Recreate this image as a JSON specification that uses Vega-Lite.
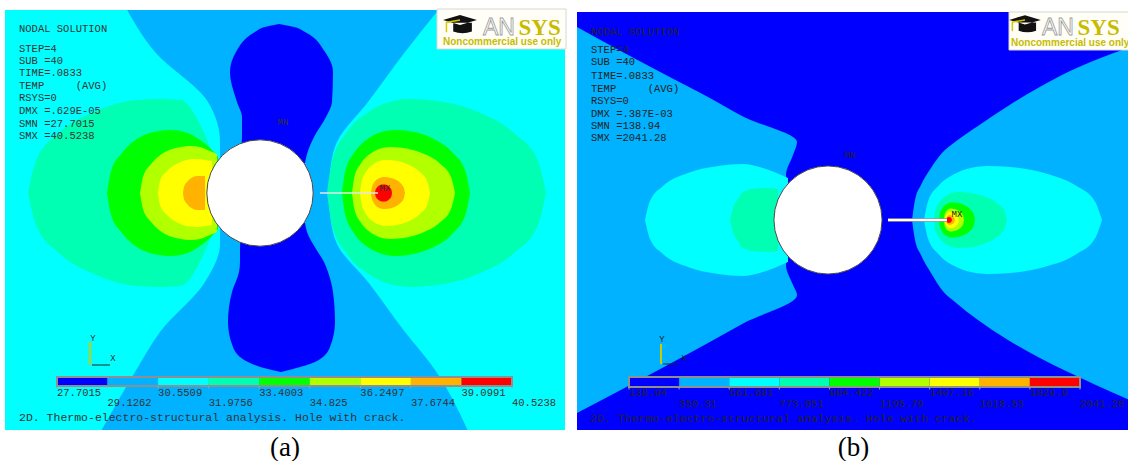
{
  "$schema": "https://vega.github.io/schema/vega-lite/v6.json",
  "padding": {"left": 5, "top": 8, "right": 0, "bottom": 0},
  "background": "#ffffff",
  "spacing": 10,
  "config": {
    "view": {"stroke": null},
    "title": {"font": "Liberation Serif", "fontSize": 27, "fontWeight": "normal", "color": "#000000"}
  },
  "datasets": {
    "yA": [
      {"z": "F3", "l": 3, "y": -24, "x0": -26, "x1": 31},
      {"z": "F3", "l": 3, "y": 18.5, "x0": -26, "x1": 31},
      {"z": "B2", "l": 2, "y": -24, "x0": -16.0, "x1": 20.9},
      {"z": "B2", "l": 2, "y": -17.4, "x0": -12.2, "x1": 17.3},
      {"z": "B2", "l": 2, "y": -13.9, "x0": -10.0, "x1": 14.5},
      {"z": "B2", "l": 2, "y": -8.9, "x0": -5.5, "x1": 10.8},
      {"z": "B2", "l": 2, "y": -5.1, "x0": -4.0, "x1": 7.7},
      {"z": "B2", "l": 2, "y": -2, "x0": -4.0, "x1": 7.0},
      {"z": "B2", "l": 2, "y": 0, "x0": -4.0, "x1": 6.9},
      {"z": "B2", "l": 2, "y": 2, "x0": -4.0, "x1": 7.0},
      {"z": "B2", "l": 2, "y": 5.1, "x0": -4.0, "x1": 7.7},
      {"z": "B2", "l": 2, "y": 9.1, "x0": -5.2, "x1": 10.8},
      {"z": "B2", "l": 2, "y": 14.1, "x0": -10.5, "x1": 14.5},
      {"z": "B2", "l": 2, "y": 18.5, "x0": -13.4, "x1": 18.0},
      {"z": "N1", "l": 1, "y": 3.0, "x0": -1.9, "x1": 4.5},
      {"z": "N1", "l": 1, "y": 3.9, "x0": -1.9, "x1": 4.7},
      {"z": "N1", "l": 1, "y": 5.6, "x0": -1.8, "x1": 5.4},
      {"z": "N1", "l": 1, "y": 7.6, "x0": -1.8, "x1": 6.6},
      {"z": "N1", "l": 1, "y": 9.1, "x0": -2.3, "x1": 7.2},
      {"z": "N1", "l": 1, "y": 12.1, "x0": -3.0, "x1": 7.3},
      {"z": "N1", "l": 1, "y": 14.1, "x0": -2.4, "x1": 6.5},
      {"z": "N1", "l": 1, "y": 16.1, "x0": -0.5, "x1": 4.5},
      {"z": "N1", "l": 1, "y": 16.6, "x0": 0.5, "x1": 3.4},
      {"z": "N1", "l": 1, "y": 16.9, "x0": 1.9, "x1": 1.9},
      {"z": "S1", "l": 1, "y": -17.9, "x0": 2.1, "x1": 2.1},
      {"z": "S1", "l": 1, "y": -17.6, "x0": 0.8, "x1": 3.3},
      {"z": "S1", "l": 1, "y": -16.9, "x0": -1.2, "x1": 5.5},
      {"z": "S1", "l": 1, "y": -15.4, "x0": -2.7, "x1": 7.0},
      {"z": "S1", "l": 1, "y": -12.9, "x0": -3.2, "x1": 7.5},
      {"z": "S1", "l": 1, "y": -9.9, "x0": -2.8, "x1": 7.3},
      {"z": "S1", "l": 1, "y": -7.9, "x0": -2.1, "x1": 6.8},
      {"z": "S1", "l": 1, "y": -6.9, "x0": -2.0, "x1": 6.4},
      {"z": "S1", "l": 1, "y": -5.6, "x0": -2.0, "x1": 5.6},
      {"z": "S1", "l": 1, "y": -3.9, "x0": -1.9, "x1": 4.7},
      {"z": "S1", "l": 1, "y": -3.0, "x0": -1.9, "x1": 4.5}
    ],
    "xA": [
      {"z": "W4", "l": 4, "x": -23.2, "t": 0, "b": 0},
      {"z": "W4", "l": 4, "x": -22.4, "t": 3.2, "b": -3.2},
      {"z": "W4", "l": 4, "x": -20.1, "t": 6.0, "b": -6.0},
      {"z": "W4", "l": 4, "x": -16.6, "t": 8.1, "b": -8.1},
      {"z": "W4", "l": 4, "x": -12.3, "t": 9.3, "b": -9.3},
      {"z": "W4", "l": 4, "x": -10, "t": 9.4, "b": -9.4},
      {"z": "W4", "l": 4, "x": -8, "t": 9.3, "b": -9.3},
      {"z": "W4", "l": 4, "x": -7.5, "t": 9.1, "b": -9.1},
      {"z": "W4", "l": 4, "x": -6.5, "t": 7.8, "b": -7.8},
      {"z": "W4", "l": 4, "x": -5.5, "t": 5.8, "b": -5.8},
      {"z": "W4", "l": 4, "x": -5.0, "t": 4.6, "b": -4.6},
      {"z": "W4", "l": 4, "x": -4.5, "t": 3.6, "b": -3.6},
      {"z": "E4", "l": 4, "x": 6.7, "t": 0, "b": 0},
      {"z": "E4", "l": 4, "x": 7.2, "t": 3.2, "b": -3.2},
      {"z": "E4", "l": 4, "x": 8.64, "t": 6.0, "b": -6.0},
      {"z": "E4", "l": 4, "x": 10.85, "t": 8.1, "b": -8.1},
      {"z": "E4", "l": 4, "x": 13.56, "t": 9.26, "b": -9.26},
      {"z": "E4", "l": 4, "x": 15, "t": 9.4, "b": -9.4},
      {"z": "E4", "l": 4, "x": 17.37, "t": 9.26, "b": -9.26},
      {"z": "E4", "l": 4, "x": 21.8, "t": 8.1, "b": -8.1},
      {"z": "E4", "l": 4, "x": 25.4, "t": 6.0, "b": -6.0},
      {"z": "E4", "l": 4, "x": 27.8, "t": 3.2, "b": -3.2},
      {"z": "E4", "l": 4, "x": 28.6, "t": 0, "b": 0},
      {"z": "W5", "l": 5, "x": -15.3, "t": 0, "b": 0},
      {"z": "W5", "l": 5, "x": -14.9, "t": 2.15, "b": -2.15},
      {"z": "W5", "l": 5, "x": -13.8, "t": 4.0, "b": -4.0},
      {"z": "W5", "l": 5, "x": -12.15, "t": 5.5, "b": -5.5},
      {"z": "W5", "l": 5, "x": -10.1, "t": 6.2, "b": -6.2},
      {"z": "W5", "l": 5, "x": -9, "t": 6.3, "b": -6.3},
      {"z": "W5", "l": 5, "x": -8, "t": 6.2, "b": -6.2},
      {"z": "W5", "l": 5, "x": -7, "t": 5.9, "b": -5.9},
      {"z": "W5", "l": 5, "x": -6, "t": 5.3, "b": -5.3},
      {"z": "W5", "l": 5, "x": -5, "t": 4.5, "b": -4.5},
      {"z": "W5", "l": 5, "x": -4.2, "t": 3.6, "b": -3.6},
      {"z": "E5", "l": 5, "x": 8.2, "t": 0, "b": 0},
      {"z": "E5", "l": 5, "x": 8.52, "t": 2.15, "b": -2.15},
      {"z": "E5", "l": 5, "x": 9.44, "t": 4.05, "b": -4.05},
      {"z": "E5", "l": 5, "x": 10.85, "t": 5.46, "b": -5.46},
      {"z": "E5", "l": 5, "x": 12.58, "t": 6.2, "b": -6.2},
      {"z": "E5", "l": 5, "x": 13.5, "t": 6.3, "b": -6.3},
      {"z": "E5", "l": 5, "x": 14.8, "t": 6.2, "b": -6.2},
      {"z": "E5", "l": 5, "x": 17.25, "t": 5.46, "b": -5.46},
      {"z": "E5", "l": 5, "x": 19.25, "t": 4.05, "b": -4.05},
      {"z": "E5", "l": 5, "x": 20.55, "t": 2.15, "b": -2.15},
      {"z": "E5", "l": 5, "x": 21.0, "t": 0, "b": 0},
      {"z": "W6", "l": 6, "x": -12, "t": 0, "b": 0},
      {"z": "W6", "l": 6, "x": -11.7, "t": 1.6, "b": -1.6},
      {"z": "W6", "l": 6, "x": -10.8, "t": 3.0, "b": -3.0},
      {"z": "W6", "l": 6, "x": -9.5, "t": 4.1, "b": -4.1},
      {"z": "W6", "l": 6, "x": -7.9, "t": 4.6, "b": -4.6},
      {"z": "W6", "l": 6, "x": -7, "t": 4.7, "b": -4.7},
      {"z": "W6", "l": 6, "x": -6, "t": 4.6, "b": -4.6},
      {"z": "W6", "l": 6, "x": -5, "t": 4.2, "b": -4.2},
      {"z": "W6", "l": 6, "x": -4.3, "t": 3.9, "b": -3.9},
      {"z": "E6", "l": 6, "x": 9.2, "t": 0, "b": 0},
      {"z": "E6", "l": 6, "x": 9.43, "t": 1.57, "b": -1.57},
      {"z": "E6", "l": 6, "x": 10.09, "t": 2.96, "b": -2.96},
      {"z": "E6", "l": 6, "x": 11.1, "t": 3.98, "b": -3.98},
      {"z": "E6", "l": 6, "x": 12.34, "t": 4.53, "b": -4.53},
      {"z": "E6", "l": 6, "x": 13, "t": 4.6, "b": -4.6},
      {"z": "E6", "l": 6, "x": 14.13, "t": 4.53, "b": -4.53},
      {"z": "E6", "l": 6, "x": 16.25, "t": 3.98, "b": -3.98},
      {"z": "E6", "l": 6, "x": 17.98, "t": 2.96, "b": -2.96},
      {"z": "E6", "l": 6, "x": 19.11, "t": 1.57, "b": -1.57},
      {"z": "E6", "l": 6, "x": 19.5, "t": 0, "b": 0},
      {"z": "W7", "l": 7, "x": -10.2, "t": 0, "b": 0},
      {"z": "W7", "l": 7, "x": -10, "t": 1.2, "b": -1.2},
      {"z": "W7", "l": 7, "x": -9.3, "t": 2.2, "b": -2.2},
      {"z": "W7", "l": 7, "x": -8.35, "t": 2.9, "b": -2.9},
      {"z": "W7", "l": 7, "x": -7.1, "t": 3.35, "b": -3.35},
      {"z": "W7", "l": 7, "x": -6.5, "t": 3.4, "b": -3.4},
      {"z": "W7", "l": 7, "x": -5.5, "t": 3.3, "b": -3.3},
      {"z": "W7", "l": 7, "x": -4.8, "t": 3.2, "b": -3.2},
      {"z": "E7", "l": 7, "x": 10.0, "t": 0, "b": 0},
      {"z": "E7", "l": 7, "x": 10.16, "t": 1.13, "b": -1.13},
      {"z": "E7", "l": 7, "x": 10.61, "t": 2.12, "b": -2.12},
      {"z": "E7", "l": 7, "x": 11.3, "t": 2.86, "b": -2.86},
      {"z": "E7", "l": 7, "x": 12.15, "t": 3.25, "b": -3.25},
      {"z": "E7", "l": 7, "x": 12.6, "t": 3.3, "b": -3.3},
      {"z": "E7", "l": 7, "x": 13.37, "t": 3.25, "b": -3.25},
      {"z": "E7", "l": 7, "x": 14.8, "t": 2.86, "b": -2.86},
      {"z": "E7", "l": 7, "x": 15.97, "t": 2.12, "b": -2.12},
      {"z": "E7", "l": 7, "x": 16.74, "t": 1.13, "b": -1.13},
      {"z": "E7", "l": 7, "x": 17.0, "t": 0, "b": 0},
      {"z": "W8", "l": 8, "x": -7.7, "t": 0, "b": 0},
      {"z": "W8", "l": 8, "x": -7.6, "t": 0.6, "b": -0.6},
      {"z": "W8", "l": 8, "x": -7.3, "t": 1.1, "b": -1.1},
      {"z": "W8", "l": 8, "x": -6.85, "t": 1.5, "b": -1.5},
      {"z": "W8", "l": 8, "x": -6.3, "t": 1.7, "b": -1.7},
      {"z": "W8", "l": 8, "x": -6, "t": 1.7, "b": -1.7},
      {"z": "W8", "l": 8, "x": -5.5, "t": 1.7, "b": -1.7},
      {"z": "E8", "l": 8, "x": 11.1, "t": 0, "b": 0},
      {"z": "E8", "l": 8, "x": 11.18, "t": 0.55, "b": -0.55},
      {"z": "E8", "l": 8, "x": 11.4, "t": 1.03, "b": -1.03},
      {"z": "E8", "l": 8, "x": 11.75, "t": 1.39, "b": -1.39},
      {"z": "E8", "l": 8, "x": 12.17, "t": 1.58, "b": -1.58},
      {"z": "E8", "l": 8, "x": 12.4, "t": 1.6, "b": -1.6},
      {"z": "E8", "l": 8, "x": 12.76, "t": 1.58, "b": -1.58},
      {"z": "E8", "l": 8, "x": 13.45, "t": 1.39, "b": -1.39},
      {"z": "E8", "l": 8, "x": 14.01, "t": 1.03, "b": -1.03},
      {"z": "E8", "l": 8, "x": 14.37, "t": 0.55, "b": -0.55},
      {"z": "E8", "l": 8, "x": 14.5, "t": 0, "b": 0},
      {"z": "E9", "l": 9, "x": 11.5, "t": 0, "b": 0},
      {"z": "E9", "l": 9, "x": 11.55, "t": 0.29, "b": -0.29},
      {"z": "E9", "l": 9, "x": 11.7, "t": 0.55, "b": -0.55},
      {"z": "E9", "l": 9, "x": 11.93, "t": 0.74, "b": -0.74},
      {"z": "E9", "l": 9, "x": 12.2, "t": 0.84, "b": -0.84},
      {"z": "E9", "l": 9, "x": 12.35, "t": 0.85, "b": -0.85},
      {"z": "E9", "l": 9, "x": 12.5, "t": 0.84, "b": -0.84},
      {"z": "E9", "l": 9, "x": 12.78, "t": 0.74, "b": -0.74},
      {"z": "E9", "l": 9, "x": 13.0, "t": 0.55, "b": -0.55},
      {"z": "E9", "l": 9, "x": 13.15, "t": 0.29, "b": -0.29},
      {"z": "E9", "l": 9, "x": 13.2, "t": 0, "b": 0}
    ],
    "geoA": [
      {"k": "hole", "x": 0, "y": 0},
      {"k": "crack", "x": 6.0, "x2": 11.8, "y": 0, "y2": 0},
      {"k": "logo", "x": 17.7, "x2": 30.6, "y": 18.4, "y2": 14.4},
      {"k": "cap", "x": 20.0, "y": 16.85},
      {"k": "ay", "x": -17.0, "x2": -17.0, "y": -14.9, "y2": -17.2},
      {"k": "ax", "x": -16.8, "x2": -15.0, "y": -17.2, "y2": -17.2}
    ],
    "notesA": [
      {"k": "i", "x": -24.1, "y": 16.4, "t": "NODAL SOLUTION"},
      {"k": "i", "x": -24.1, "y": 14.4, "t": "STEP=4"},
      {"k": "i", "x": -24.1, "y": 13.2, "t": "SUB =40"},
      {"k": "i", "x": -24.1, "y": 12.0, "t": "TIME=.0833"},
      {"k": "i", "x": -24.1, "y": 10.7, "t": "TEMP\u00a0\u00a0\u00a0\u00a0\u00a0(AVG)"},
      {"k": "i", "x": -24.1, "y": 9.5, "t": "RSYS=0"},
      {"k": "i", "x": -24.1, "y": 8.2, "t": "DMX =.629E-05"},
      {"k": "i", "x": -24.1, "y": 6.9, "t": "SMN =27.7015"},
      {"k": "i", "x": -24.1, "y": 5.7, "t": "SMX =40.5238"},
      {"k": "m", "x": 2.3, "y": 7.1, "t": "MN"},
      {"k": "m", "x": 12.5, "y": 0.5, "t": "MX"},
      {"k": "c", "x": -24.1, "y": -22.5, "t": "2D. Thermo-electro-structural analysis. Hole with crack."},
      {"k": "t", "x": -16.7, "y": -14.5, "t": "Y"},
      {"k": "t", "x": -14.7, "y": -16.5, "t": "X"},
      {"k": "an", "x": 22.3, "y": 15.85, "t": "AN"},
      {"k": "sys", "x": 25.85, "y": 15.85, "t": "SYS"},
      {"k": "nc", "x": 18.3, "y": 15.12, "t": "Noncommercial use only"}
    ],
    "cellsA": [
      {"l": 1, "lo": 27.7015, "hi": 29.1262},
      {"l": 2, "lo": 29.1262, "hi": 30.5509},
      {"l": 3, "lo": 30.5509, "hi": 31.9756},
      {"l": 4, "lo": 31.9756, "hi": 33.4003},
      {"l": 5, "lo": 33.4003, "hi": 34.825},
      {"l": 6, "lo": 34.825, "hi": 36.2497},
      {"l": 7, "lo": 36.2497, "hi": 37.6744},
      {"l": 8, "lo": 37.6744, "hi": 39.0991},
      {"l": 9, "lo": 39.0991, "hi": 40.5238}
    ],
    "ticksA": [
      {"k": 0, "v": 27.7015, "s": "27.7015"},
      {"k": 1, "v": 29.1262, "s": "29.1262"},
      {"k": 2, "v": 30.5509, "s": "30.5509"},
      {"k": 3, "v": 31.9756, "s": "31.9756"},
      {"k": 4, "v": 33.4003, "s": "33.4003"},
      {"k": 5, "v": 34.825, "s": "34.825"},
      {"k": 6, "v": 36.2497, "s": "36.2497"},
      {"k": 7, "v": 37.6744, "s": "37.6744"},
      {"k": 8, "v": 39.0991, "s": "39.0991"},
      {"k": 9, "v": 40.5238, "s": "40.5238"}
    ],
    "yB": [
      {"z": "F1", "l": 1, "y": -21.5, "x0": -26, "x1": 31},
      {"z": "F1", "l": 1, "y": 20.8, "x0": -26, "x1": 31},
      {"z": "W2", "l": 2, "y": -19.3, "x0": -26, "x1": -25.1},
      {"z": "W2", "l": 2, "y": -17.2, "x0": -26, "x1": -21.1},
      {"z": "W2", "l": 2, "y": -14.7, "x0": -26, "x1": -16.4},
      {"z": "W2", "l": 2, "y": -12.3, "x0": -26, "x1": -12.0},
      {"z": "W2", "l": 2, "y": -10.3, "x0": -26, "x1": -8.4},
      {"z": "W2", "l": 2, "y": -7.5, "x0": -26, "x1": -3.1},
      {"z": "W2", "l": 2, "y": -6.5, "x0": -26, "x1": -3.5},
      {"z": "W2", "l": 2, "y": -4.5, "x0": -26, "x1": -4.2},
      {"z": "W2", "l": 2, "y": -3, "x0": -26, "x1": -4.0},
      {"z": "W2", "l": 2, "y": 0, "x0": -26, "x1": -4.0},
      {"z": "W2", "l": 2, "y": 3, "x0": -26, "x1": -4.0},
      {"z": "W2", "l": 2, "y": 4.5, "x0": -26, "x1": -4.2},
      {"z": "W2", "l": 2, "y": 6.5, "x0": -26, "x1": -3.5},
      {"z": "W2", "l": 2, "y": 7.8, "x0": -26, "x1": -3.1},
      {"z": "W2", "l": 2, "y": 10.3, "x0": -26, "x1": -8.4},
      {"z": "W2", "l": 2, "y": 12.3, "x0": -26, "x1": -12.0},
      {"z": "W2", "l": 2, "y": 14.6, "x0": -26, "x1": -16.4},
      {"z": "W2", "l": 2, "y": 17.1, "x0": -26, "x1": -21.1},
      {"z": "W2", "l": 2, "y": 19.3, "x0": -26, "x1": -25.1}
    ],
    "xB": [
      {"z": "E2", "l": 2, "x": 8.4, "t": 0, "b": 0},
      {"z": "E2", "l": 2, "x": 8.7, "t": 2.0, "b": -2.0},
      {"z": "E2", "l": 2, "x": 9.3, "t": 3.5, "b": -3.5},
      {"z": "E2", "l": 2, "x": 10.3, "t": 5.2, "b": -5.3},
      {"z": "E2", "l": 2, "x": 11.4, "t": 6.7, "b": -7.0},
      {"z": "E2", "l": 2, "x": 12.7, "t": 7.8, "b": -8.2},
      {"z": "E2", "l": 2, "x": 15, "t": 9.4, "b": -10.0},
      {"z": "E2", "l": 2, "x": 18, "t": 11.4, "b": -12.0},
      {"z": "E2", "l": 2, "x": 21, "t": 13.2, "b": -13.7},
      {"z": "E2", "l": 2, "x": 24, "t": 14.8, "b": -15.2},
      {"z": "E2", "l": 2, "x": 27, "t": 16.1, "b": -16.6},
      {"z": "E2", "l": 2, "x": 30.6, "t": 17.4, "b": -18.2},
      {"z": "W3", "l": 3, "x": -18.3, "t": 0, "b": 0},
      {"z": "W3", "l": 3, "x": -17.8, "t": 1.9, "b": -1.9},
      {"z": "W3", "l": 3, "x": -16.5, "t": 3.4, "b": -3.4},
      {"z": "W3", "l": 3, "x": -14, "t": 4.7, "b": -4.7},
      {"z": "W3", "l": 3, "x": -11, "t": 5.4, "b": -5.4},
      {"z": "W3", "l": 3, "x": -8.6, "t": 5.6, "b": -5.6},
      {"z": "W3", "l": 3, "x": -6.5, "t": 5.2, "b": -5.2},
      {"z": "W3", "l": 3, "x": -4.9, "t": 4.6, "b": -4.6},
      {"z": "W3", "l": 3, "x": -4.0, "t": 4.2, "b": -4.2},
      {"z": "E3", "l": 3, "x": 9.6, "t": 0, "b": 0},
      {"z": "E3", "l": 3, "x": 10.0, "t": 1.85, "b": -1.85},
      {"z": "E3", "l": 3, "x": 11.1, "t": 3.47, "b": -3.47},
      {"z": "E3", "l": 3, "x": 12.8, "t": 4.68, "b": -4.68},
      {"z": "E3", "l": 3, "x": 14.9, "t": 5.32, "b": -5.32},
      {"z": "E3", "l": 3, "x": 16, "t": 5.4, "b": -5.4},
      {"z": "E3", "l": 3, "x": 17.98, "t": 5.32, "b": -5.32},
      {"z": "E3", "l": 3, "x": 21.7, "t": 4.68, "b": -4.68},
      {"z": "E3", "l": 3, "x": 24.73, "t": 3.47, "b": -3.47},
      {"z": "E3", "l": 3, "x": 26.7, "t": 1.85, "b": -1.85},
      {"z": "E3", "l": 3, "x": 27.4, "t": 0, "b": 0},
      {"z": "W4", "l": 4, "x": -9.8, "t": 0, "b": 0},
      {"z": "W4", "l": 4, "x": -9.5, "t": 1.2, "b": -1.2},
      {"z": "W4", "l": 4, "x": -9.0, "t": 2.1, "b": -2.1},
      {"z": "W4", "l": 4, "x": -8.6, "t": 2.7, "b": -2.7},
      {"z": "W4", "l": 4, "x": -7.5, "t": 3.1, "b": -3.1},
      {"z": "W4", "l": 4, "x": -6.0, "t": 3.2, "b": -3.2},
      {"z": "W4", "l": 4, "x": -5.0, "t": 3.1, "b": -3.1},
      {"z": "E4", "l": 4, "x": 10.6, "t": 0, "b": 0},
      {"z": "E4", "l": 4, "x": 10.74, "t": 0.96, "b": -0.96},
      {"z": "E4", "l": 4, "x": 11.16, "t": 1.8, "b": -1.8},
      {"z": "E4", "l": 4, "x": 11.8, "t": 2.42, "b": -2.42},
      {"z": "E4", "l": 4, "x": 12.58, "t": 2.76, "b": -2.76},
      {"z": "E4", "l": 4, "x": 13, "t": 2.8, "b": -2.8},
      {"z": "E4", "l": 4, "x": 13.85, "t": 2.76, "b": -2.76},
      {"z": "E4", "l": 4, "x": 15.45, "t": 2.42, "b": -2.42},
      {"z": "E4", "l": 4, "x": 16.75, "t": 1.8, "b": -1.8},
      {"z": "E4", "l": 4, "x": 17.6, "t": 0.96, "b": -0.96},
      {"z": "E4", "l": 4, "x": 17.9, "t": 0, "b": 0},
      {"z": "E5", "l": 5, "x": 11.1, "t": 0, "b": 0},
      {"z": "E5", "l": 5, "x": 11.18, "t": 0.6, "b": -0.6},
      {"z": "E5", "l": 5, "x": 11.4, "t": 1.12, "b": -1.12},
      {"z": "E5", "l": 5, "x": 11.75, "t": 1.52, "b": -1.52},
      {"z": "E5", "l": 5, "x": 12.17, "t": 1.72, "b": -1.72},
      {"z": "E5", "l": 5, "x": 12.4, "t": 1.75, "b": -1.75},
      {"z": "E5", "l": 5, "x": 12.8, "t": 1.72, "b": -1.72},
      {"z": "E5", "l": 5, "x": 13.55, "t": 1.52, "b": -1.52},
      {"z": "E5", "l": 5, "x": 14.16, "t": 1.12, "b": -1.12},
      {"z": "E5", "l": 5, "x": 14.56, "t": 0.6, "b": -0.6},
      {"z": "E5", "l": 5, "x": 14.7, "t": 0, "b": 0},
      {"z": "E6", "l": 6, "x": 11.6, "t": 0, "b": 0},
      {"z": "E6", "l": 6, "x": 11.64, "t": 0.39, "b": -0.39},
      {"z": "E6", "l": 6, "x": 11.75, "t": 0.74, "b": -0.74},
      {"z": "E6", "l": 6, "x": 11.93, "t": 1.0, "b": -1.0},
      {"z": "E6", "l": 6, "x": 12.14, "t": 1.13, "b": -1.13},
      {"z": "E6", "l": 6, "x": 12.25, "t": 1.15, "b": -1.15},
      {"z": "E6", "l": 6, "x": 12.48, "t": 1.13, "b": -1.13},
      {"z": "E6", "l": 6, "x": 12.93, "t": 1.0, "b": -1.0},
      {"z": "E6", "l": 6, "x": 13.28, "t": 0.74, "b": -0.74},
      {"z": "E6", "l": 6, "x": 13.52, "t": 0.39, "b": -0.39},
      {"z": "E6", "l": 6, "x": 13.6, "t": 0, "b": 0},
      {"z": "E7", "l": 7, "x": 11.7, "t": 0, "b": 0},
      {"z": "E7", "l": 7, "x": 11.73, "t": 0.27, "b": -0.27},
      {"z": "E7", "l": 7, "x": 11.82, "t": 0.51, "b": -0.51},
      {"z": "E7", "l": 7, "x": 11.95, "t": 0.69, "b": -0.69},
      {"z": "E7", "l": 7, "x": 12.11, "t": 0.79, "b": -0.79},
      {"z": "E7", "l": 7, "x": 12.2, "t": 0.8, "b": -0.8},
      {"z": "E7", "l": 7, "x": 12.36, "t": 0.79, "b": -0.79},
      {"z": "E7", "l": 7, "x": 12.65, "t": 0.69, "b": -0.69},
      {"z": "E7", "l": 7, "x": 12.89, "t": 0.51, "b": -0.51},
      {"z": "E7", "l": 7, "x": 13.05, "t": 0.27, "b": -0.27},
      {"z": "E7", "l": 7, "x": 13.1, "t": 0, "b": 0},
      {"z": "E8", "l": 8, "x": 11.8, "t": 0, "b": 0},
      {"z": "E8", "l": 8, "x": 11.9, "t": 0.32, "b": -0.32},
      {"z": "E8", "l": 8, "x": 12.0, "t": 0.43, "b": -0.43},
      {"z": "E8", "l": 8, "x": 12.15, "t": 0.5, "b": -0.5},
      {"z": "E8", "l": 8, "x": 12.35, "t": 0.45, "b": -0.45},
      {"z": "E8", "l": 8, "x": 12.55, "t": 0.32, "b": -0.32},
      {"z": "E8", "l": 8, "x": 12.7, "t": 0, "b": 0},
      {"z": "E9", "l": 9, "x": 11.8, "t": 0, "b": 0},
      {"z": "E9", "l": 9, "x": 11.9, "t": 0.22, "b": -0.22},
      {"z": "E9", "l": 9, "x": 12.1, "t": 0.3, "b": -0.3},
      {"z": "E9", "l": 9, "x": 12.3, "t": 0.22, "b": -0.22},
      {"z": "E9", "l": 9, "x": 12.4, "t": 0, "b": 0}
    ],
    "geoB": [
      {"k": "hole", "x": 0, "y": 0},
      {"k": "crack", "x": 6.0, "x2": 11.9, "y": 0, "y2": 0},
      {"k": "logo", "x": 18.1, "x2": 30.5, "y": 20.8, "y2": 17.0},
      {"k": "cap", "x": 19.7, "y": 19.6},
      {"k": "ay", "x": -16.7, "x2": -16.7, "y": -12.4, "y2": -14.4},
      {"k": "ax", "x": -16.5, "x2": -15.0, "y": -14.4, "y2": -14.4}
    ],
    "notesB": [
      {"k": "i", "x": -23.7, "y": 18.8, "t": "NODAL SOLUTION"},
      {"k": "i", "x": -23.7, "y": 17.0, "t": "STEP=4"},
      {"k": "i", "x": -23.7, "y": 15.8, "t": "SUB =40"},
      {"k": "i", "x": -23.7, "y": 14.4, "t": "TIME=.0833"},
      {"k": "i", "x": -23.7, "y": 13.1, "t": "TEMP\u00a0\u00a0\u00a0\u00a0\u00a0(AVG)"},
      {"k": "i", "x": -23.7, "y": 11.9, "t": "RSYS=0"},
      {"k": "i", "x": -23.7, "y": 10.6, "t": "DMX =.387E-03"},
      {"k": "i", "x": -23.7, "y": 9.4, "t": "SMN =138.94"},
      {"k": "i", "x": -23.7, "y": 8.2, "t": "SMX =2041.28"},
      {"k": "m", "x": 2.2, "y": 6.5, "t": "MN"},
      {"k": "m", "x": 12.9, "y": 0.6, "t": "MX"},
      {"k": "c", "x": -23.8, "y": -19.9, "t": "2D. Thermo-electro-structural analysis. Hole with crack."},
      {"k": "t", "x": -16.6, "y": -11.9, "t": "Y"},
      {"k": "t", "x": -14.4, "y": -13.8, "t": "X"},
      {"k": "an", "x": 21.4, "y": 18.55, "t": "AN"},
      {"k": "sys", "x": 24.95, "y": 18.55, "t": "SYS"},
      {"k": "nc", "x": 18.3, "y": 17.7, "t": "Noncommercial use only"}
    ],
    "cellsB": [
      {"l": 1, "lo": 138.94, "hi": 350.31},
      {"l": 2, "lo": 350.31, "hi": 561.681},
      {"l": 3, "lo": 561.681, "hi": 773.051},
      {"l": 4, "lo": 773.051, "hi": 984.422},
      {"l": 5, "lo": 984.422, "hi": 1195.79},
      {"l": 6, "lo": 1195.79, "hi": 1407.16},
      {"l": 7, "lo": 1407.16, "hi": 1618.53},
      {"l": 8, "lo": 1618.53, "hi": 1829.9},
      {"l": 9, "lo": 1829.9, "hi": 2041.28}
    ],
    "ticksB": [
      {"k": 0, "v": 138.94, "s": "138.94"},
      {"k": 1, "v": 350.31, "s": "350.31"},
      {"k": 2, "v": 561.681, "s": "561.681"},
      {"k": 3, "v": 773.051, "s": "773.051"},
      {"k": 4, "v": 984.422, "s": "984.422"},
      {"k": 5, "v": 1195.79, "s": "1195.79"},
      {"k": 6, "v": 1407.16, "s": "1407.16"},
      {"k": 7, "v": 1618.53, "s": "1618.53"},
      {"k": 8, "v": 1829.9, "s": "1829.9"},
      {"k": 9, "v": 2041.28, "s": "2041.28"}
    ]
  },
  "hconcat": [
    {
      "width": 560,
      "height": 420,
      "title": {"text": "(a)", "orient": "bottom", "offset": 5},
      "resolve": {"scale": {"x": "independent"}},
      "layer": [
        {
          "layer": [
            {
              "data": {"name": "yA"},
              "transform": [{"filter": "datum.z == 'F3'"}],
              "mark": {"type": "area", "orient": "horizontal", "clip": true},
              "encoding": {
                "y": {"field": "y", "type": "quantitative", "scale": {"domain": [-23.7, 18.3]}, "axis": null},
                "x": {"field": "x0", "type": "quantitative", "scale": {"domain": [-25.5, 30.5]}, "axis": null},
                "x2": {"field": "x1"},
                "color": {"field": "l", "type": "ordinal", "scale": {"domain": [1, 2, 3, 4, 5, 6, 7, 8, 9], "range": ["#0000ff", "#00b2ff", "#00ffff", "#00ffb2", "#00ff00", "#b2ff00", "#ffff00", "#ffb200", "#ff0000"]}, "legend": null}
              }
            },
            {
              "data": {"name": "yA"},
              "transform": [{"filter": "datum.z == 'B2'"}],
              "mark": {"type": "area", "orient": "horizontal", "interpolate": "monotone", "clip": true},
              "encoding": {
                "y": {"field": "y", "type": "quantitative", "scale": {"domain": [-23.7, 18.3]}, "axis": null},
                "x": {"field": "x0", "type": "quantitative", "scale": {"domain": [-25.5, 30.5]}, "axis": null},
                "x2": {"field": "x1"},
                "color": {"field": "l", "type": "ordinal", "scale": {"domain": [1, 2, 3, 4, 5, 6, 7, 8, 9], "range": ["#0000ff", "#00b2ff", "#00ffff", "#00ffb2", "#00ff00", "#b2ff00", "#ffff00", "#ffb200", "#ff0000"]}, "legend": null}
              }
            },
            {
              "data": {"name": "yA"},
              "transform": [{"filter": "datum.l == 1"}],
              "mark": {"type": "area", "orient": "horizontal", "interpolate": "monotone", "clip": true},
              "encoding": {
                "y": {"field": "y", "type": "quantitative", "scale": {"domain": [-23.7, 18.3]}, "axis": null},
                "x": {"field": "x0", "type": "quantitative", "scale": {"domain": [-25.5, 30.5]}, "axis": null},
                "x2": {"field": "x1"},
                "detail": {"field": "z"},
                "color": {"field": "l", "type": "ordinal", "scale": {"domain": [1, 2, 3, 4, 5, 6, 7, 8, 9], "range": ["#0000ff", "#00b2ff", "#00ffff", "#00ffb2", "#00ff00", "#b2ff00", "#ffff00", "#ffb200", "#ff0000"]}, "legend": null}
              }
            },
            {
              "data": {"name": "xA"},
              "transform": [{"filter": "datum.l == 4"}],
              "mark": {"type": "area", "interpolate": "monotone", "clip": true},
              "encoding": {
                "x": {"field": "x", "type": "quantitative", "scale": {"domain": [-25.5, 30.5]}, "axis": null},
                "y": {"field": "t", "type": "quantitative", "scale": {"domain": [-23.7, 18.3]}, "axis": null},
                "y2": {"field": "b"},
                "detail": {"field": "z"},
                "color": {"field": "l", "type": "ordinal", "scale": {"domain": [1, 2, 3, 4, 5, 6, 7, 8, 9], "range": ["#0000ff", "#00b2ff", "#00ffff", "#00ffb2", "#00ff00", "#b2ff00", "#ffff00", "#ffb200", "#ff0000"]}, "legend": null}
              }
            },
            {
              "data": {"name": "xA"},
              "transform": [{"filter": "datum.l == 5"}],
              "mark": {"type": "area", "interpolate": "monotone", "clip": true},
              "encoding": {
                "x": {"field": "x", "type": "quantitative", "scale": {"domain": [-25.5, 30.5]}, "axis": null},
                "y": {"field": "t", "type": "quantitative", "scale": {"domain": [-23.7, 18.3]}, "axis": null},
                "y2": {"field": "b"},
                "detail": {"field": "z"},
                "color": {"field": "l", "type": "ordinal", "scale": {"domain": [1, 2, 3, 4, 5, 6, 7, 8, 9], "range": ["#0000ff", "#00b2ff", "#00ffff", "#00ffb2", "#00ff00", "#b2ff00", "#ffff00", "#ffb200", "#ff0000"]}, "legend": null}
              }
            },
            {
              "data": {"name": "xA"},
              "transform": [{"filter": "datum.l == 6"}],
              "mark": {"type": "area", "interpolate": "monotone", "clip": true},
              "encoding": {
                "x": {"field": "x", "type": "quantitative", "scale": {"domain": [-25.5, 30.5]}, "axis": null},
                "y": {"field": "t", "type": "quantitative", "scale": {"domain": [-23.7, 18.3]}, "axis": null},
                "y2": {"field": "b"},
                "detail": {"field": "z"},
                "color": {"field": "l", "type": "ordinal", "scale": {"domain": [1, 2, 3, 4, 5, 6, 7, 8, 9], "range": ["#0000ff", "#00b2ff", "#00ffff", "#00ffb2", "#00ff00", "#b2ff00", "#ffff00", "#ffb200", "#ff0000"]}, "legend": null}
              }
            },
            {
              "data": {"name": "xA"},
              "transform": [{"filter": "datum.l == 7"}],
              "mark": {"type": "area", "interpolate": "monotone", "clip": true},
              "encoding": {
                "x": {"field": "x", "type": "quantitative", "scale": {"domain": [-25.5, 30.5]}, "axis": null},
                "y": {"field": "t", "type": "quantitative", "scale": {"domain": [-23.7, 18.3]}, "axis": null},
                "y2": {"field": "b"},
                "detail": {"field": "z"},
                "color": {"field": "l", "type": "ordinal", "scale": {"domain": [1, 2, 3, 4, 5, 6, 7, 8, 9], "range": ["#0000ff", "#00b2ff", "#00ffff", "#00ffb2", "#00ff00", "#b2ff00", "#ffff00", "#ffb200", "#ff0000"]}, "legend": null}
              }
            },
            {
              "data": {"name": "xA"},
              "transform": [{"filter": "datum.l == 8"}],
              "mark": {"type": "area", "interpolate": "monotone", "clip": true},
              "encoding": {
                "x": {"field": "x", "type": "quantitative", "scale": {"domain": [-25.5, 30.5]}, "axis": null},
                "y": {"field": "t", "type": "quantitative", "scale": {"domain": [-23.7, 18.3]}, "axis": null},
                "y2": {"field": "b"},
                "detail": {"field": "z"},
                "color": {"field": "l", "type": "ordinal", "scale": {"domain": [1, 2, 3, 4, 5, 6, 7, 8, 9], "range": ["#0000ff", "#00b2ff", "#00ffff", "#00ffb2", "#00ff00", "#b2ff00", "#ffff00", "#ffb200", "#ff0000"]}, "legend": null}
              }
            },
            {
              "data": {"name": "xA"},
              "transform": [{"filter": "datum.l == 9"}],
              "mark": {"type": "area", "interpolate": "monotone", "clip": true},
              "encoding": {
                "x": {"field": "x", "type": "quantitative", "scale": {"domain": [-25.5, 30.5]}, "axis": null},
                "y": {"field": "t", "type": "quantitative", "scale": {"domain": [-23.7, 18.3]}, "axis": null},
                "y2": {"field": "b"},
                "detail": {"field": "z"},
                "color": {"field": "l", "type": "ordinal", "scale": {"domain": [1, 2, 3, 4, 5, 6, 7, 8, 9], "range": ["#0000ff", "#00b2ff", "#00ffff", "#00ffb2", "#00ff00", "#b2ff00", "#ffff00", "#ffb200", "#ff0000"]}, "legend": null}
              }
            },
            {
              "data": {"name": "geoA"},
              "transform": [{"filter": "datum.k == 'crack'"}],
              "mark": {"type": "rule", "stroke": "#e4e4e4", "strokeWidth": 1.5},
              "encoding": {
                "x": {"field": "x", "type": "quantitative", "scale": {"domain": [-25.5, 30.5]}, "axis": null},
                "x2": {"field": "x2"},
                "y": {"field": "y", "type": "quantitative", "scale": {"domain": [-23.7, 18.3]}, "axis": null},
                "y2": {"field": "y2"}
              }
            },
            {
              "data": {"name": "geoA"},
              "transform": [{"filter": "datum.k == 'hole'"}],
              "mark": {"type": "point", "shape": "circle", "size": 11310, "filled": true, "fill": "#ffffff", "stroke": "#4a4a4a", "strokeWidth": 1, "opacity": 1},
              "encoding": {
                "x": {"field": "x", "type": "quantitative", "scale": {"domain": [-25.5, 30.5]}, "axis": null},
                "y": {"field": "y", "type": "quantitative", "scale": {"domain": [-23.7, 18.3]}, "axis": null}
              }
            },
            {
              "data": {"name": "geoA"},
              "transform": [{"filter": "datum.k == 'logo'"}],
              "mark": {"type": "rect", "fill": "#fffff8", "stroke": "#d6d6d6", "strokeWidth": 1},
              "encoding": {
                "x": {"field": "x", "type": "quantitative", "scale": {"domain": [-25.5, 30.5]}, "axis": null},
                "x2": {"field": "x2"},
                "y": {"field": "y", "type": "quantitative", "scale": {"domain": [-23.7, 18.3]}, "axis": null},
                "y2": {"field": "y2"}
              }
            },
            {
              "data": {"name": "geoA"},
              "transform": [{"filter": "datum.k == 'cap'"}],
              "mark": {"type": "point", "shape": "M-1,-0.26L0,-0.56L1,-0.26L0,0.03Z M-0.4,-0.1L-0.4,0.42Q0.15,0.62 0.7,0.42L0.7,-0.1Z", "size": 1150, "filled": true, "fill": "#111111", "strokeWidth": 0, "opacity": 1},
              "encoding": {
                "x": {"field": "x", "type": "quantitative", "scale": {"domain": [-25.5, 30.5]}, "axis": null},
                "y": {"field": "y", "type": "quantitative", "scale": {"domain": [-23.7, 18.3]}, "axis": null}
              }
            },
            {
              "data": {"name": "geoA"},
              "transform": [{"filter": "datum.k == 'cap'"}],
              "mark": {"type": "point", "shape": "M0,-0.26L-0.8,-0.12L-0.8,0.45", "size": 1150, "filled": false, "stroke": "#d8c800", "strokeWidth": 1.5, "opacity": 1},
              "encoding": {
                "x": {"field": "x", "type": "quantitative", "scale": {"domain": [-25.5, 30.5]}, "axis": null},
                "y": {"field": "y", "type": "quantitative", "scale": {"domain": [-23.7, 18.3]}, "axis": null}
              }
            },
            {
              "data": {"name": "geoA"},
              "transform": [{"filter": "datum.k == 'ay'"}],
              "mark": {"type": "rule", "stroke": "#cccc00", "strokeWidth": 2},
              "encoding": {
                "x": {"field": "x", "type": "quantitative", "scale": {"domain": [-25.5, 30.5]}, "axis": null},
                "x2": {"field": "x2"},
                "y": {"field": "y", "type": "quantitative", "scale": {"domain": [-23.7, 18.3]}, "axis": null},
                "y2": {"field": "y2"}
              }
            },
            {
              "data": {"name": "geoA"},
              "transform": [{"filter": "datum.k == 'ax'"}],
              "mark": {"type": "rule", "stroke": "#222222", "strokeWidth": 1},
              "encoding": {
                "x": {"field": "x", "type": "quantitative", "scale": {"domain": [-25.5, 30.5]}, "axis": null},
                "x2": {"field": "x2"},
                "y": {"field": "y", "type": "quantitative", "scale": {"domain": [-23.7, 18.3]}, "axis": null},
                "y2": {"field": "y2"}
              }
            },
            {
              "data": {"name": "notesA"},
              "transform": [{"filter": "datum.k == 'i'"}],
              "mark": {"type": "text", "font": "Liberation Mono", "fontSize": 10.5, "align": "left", "baseline": "middle", "fill": "#333333"},
              "encoding": {
                "x": {"field": "x", "type": "quantitative", "scale": {"domain": [-25.5, 30.5]}, "axis": null},
                "y": {"field": "y", "type": "quantitative", "scale": {"domain": [-23.7, 18.3]}, "axis": null},
                "text": {"field": "t"}
              }
            },
            {
              "data": {"name": "notesA"},
              "transform": [{"filter": "datum.k == 'm' || datum.k == 't'"}],
              "mark": {"type": "text", "font": "Liberation Mono", "fontSize": 9, "align": "center", "baseline": "middle", "fill": "#333333"},
              "encoding": {
                "x": {"field": "x", "type": "quantitative", "scale": {"domain": [-25.5, 30.5]}, "axis": null},
                "y": {"field": "y", "type": "quantitative", "scale": {"domain": [-23.7, 18.3]}, "axis": null},
                "text": {"field": "t"}
              }
            },
            {
              "data": {"name": "notesA"},
              "transform": [{"filter": "datum.k == 'c'"}],
              "mark": {"type": "text", "font": "Liberation Mono", "fontSize": 11.5, "align": "left", "baseline": "middle", "fill": "#333333"},
              "encoding": {
                "x": {"field": "x", "type": "quantitative", "scale": {"domain": [-25.5, 30.5]}, "axis": null},
                "y": {"field": "y", "type": "quantitative", "scale": {"domain": [-23.7, 18.3]}, "axis": null},
                "text": {"field": "t"}
              }
            },
            {
              "data": {"name": "notesA"},
              "transform": [{"filter": "datum.k == 'an'"}],
              "mark": {"type": "text", "font": "Liberation Sans", "fontSize": 23, "align": "left", "baseline": "alphabetic", "fill": "#ffffff", "stroke": "#9c9c9c", "strokeWidth": 0.8},
              "encoding": {
                "x": {"field": "x", "type": "quantitative", "scale": {"domain": [-25.5, 30.5]}, "axis": null},
                "y": {"field": "y", "type": "quantitative", "scale": {"domain": [-23.7, 18.3]}, "axis": null},
                "text": {"field": "t"}
              }
            },
            {
              "data": {"name": "notesA"},
              "transform": [{"filter": "datum.k == 'sys'"}],
              "mark": {"type": "text", "font": "Liberation Serif", "fontWeight": "bold", "fontSize": 23, "align": "left", "baseline": "alphabetic", "fill": "#c8bb00"},
              "encoding": {
                "x": {"field": "x", "type": "quantitative", "scale": {"domain": [-25.5, 30.5]}, "axis": null},
                "y": {"field": "y", "type": "quantitative", "scale": {"domain": [-23.7, 18.3]}, "axis": null},
                "text": {"field": "t"}
              }
            },
            {
              "data": {"name": "notesA"},
              "transform": [{"filter": "datum.k == 'nc'"}],
              "mark": {"type": "text", "font": "Liberation Sans", "fontWeight": "bold", "fontSize": 10, "align": "left", "baseline": "middle", "fill": "#c8bb00"},
              "encoding": {
                "x": {"field": "x", "type": "quantitative", "scale": {"domain": [-25.5, 30.5]}, "axis": null},
                "y": {"field": "y", "type": "quantitative", "scale": {"domain": [-23.7, 18.3]}, "axis": null},
                "text": {"field": "t"}
              }
            }
          ]
        },
        {
          "layer": [
            {
              "data": {"name": "cellsA"},
              "mark": {"type": "rect"},
              "encoding": {
                "x": {"field": "lo", "type": "quantitative", "scale": {"domain": [26.2361, 42.0174]}, "axis": null},
                "x2": {"field": "hi"},
                "y": {"datum": -18.4, "type": "quantitative", "scale": {"domain": [-23.7, 18.3]}, "axis": null},
                "y2": {"datum": -19.3},
                "color": {"field": "l", "type": "ordinal", "scale": {"domain": [1, 2, 3, 4, 5, 6, 7, 8, 9], "range": ["#0000ff", "#00b2ff", "#00ffff", "#00ffb2", "#00ff00", "#b2ff00", "#ffff00", "#ffb200", "#ff0000"]}, "legend": null}
              }
            },
            {
              "data": {"name": "cellsA"},
              "mark": {"type": "rect", "fill": null, "stroke": "#8f8f8f", "strokeWidth": 2},
              "encoding": {
                "x": {"aggregate": "min", "field": "lo", "type": "quantitative", "scale": {"domain": [26.2361, 42.0174]}, "axis": null},
                "x2": {"aggregate": "max", "field": "hi"},
                "y": {"datum": -18.4, "type": "quantitative", "scale": {"domain": [-23.7, 18.3]}, "axis": null},
                "y2": {"datum": -19.3}
              }
            },
            {
              "data": {"name": "ticksA"},
              "mark": {"type": "rule", "stroke": "#a0a0a0", "strokeWidth": 1},
              "encoding": {
                "x": {"field": "v", "type": "quantitative", "scale": {"domain": [26.2361, 42.0174]}, "axis": null},
                "y": {"datum": -19.3, "type": "quantitative", "scale": {"domain": [-23.7, 18.3]}, "axis": null},
                "y2": {"datum": -19.55}
              }
            },
            {
              "data": {"name": "ticksA"},
              "transform": [{"filter": "datum.k % 2 == 0"}],
              "mark": {"type": "text", "font": "Liberation Mono", "fontSize": 10.5, "align": "left", "baseline": "middle", "fill": "#333333"},
              "encoding": {
                "x": {"field": "v", "type": "quantitative", "scale": {"domain": [26.2361, 42.0174]}, "axis": null},
                "y": {"datum": -20.0, "type": "quantitative", "scale": {"domain": [-23.7, 18.3]}, "axis": null},
                "text": {"field": "s"}
              }
            },
            {
              "data": {"name": "ticksA"},
              "transform": [{"filter": "datum.k % 2 == 1"}],
              "mark": {"type": "text", "font": "Liberation Mono", "fontSize": 10.5, "align": "left", "baseline": "middle", "fill": "#333333"},
              "encoding": {
                "x": {"field": "v", "type": "quantitative", "scale": {"domain": [26.2361, 42.0174]}, "axis": null},
                "y": {"datum": -21.0, "type": "quantitative", "scale": {"domain": [-23.7, 18.3]}, "axis": null},
                "text": {"field": "s"}
              }
            }
          ]
        }
      ]
    },
    {
      "width": 553,
      "height": 420,
      "title": {"text": "(b)", "orient": "bottom", "offset": 5},
      "resolve": {"scale": {"x": "independent"}},
      "layer": [
        {
          "layer": [
            {
              "data": {"name": "yB"},
              "transform": [{"filter": "datum.z == 'F1'"}],
              "mark": {"type": "area", "orient": "horizontal", "clip": true},
              "encoding": {
                "y": {"field": "y", "type": "quantitative", "scale": {"domain": [-21.0, 21.0]}, "axis": null},
                "x": {"field": "x0", "type": "quantitative", "scale": {"domain": [-25.1, 30.2]}, "axis": null},
                "x2": {"field": "x1"},
                "color": {"field": "l", "type": "ordinal", "scale": {"domain": [1, 2, 3, 4, 5, 6, 7, 8, 9], "range": ["#0000ff", "#00b2ff", "#00ffff", "#00ffb2", "#00ff00", "#b2ff00", "#ffff00", "#ffb200", "#ff0000"]}, "legend": null}
              }
            },
            {
              "data": {"name": "yB"},
              "transform": [{"filter": "datum.z == 'W2'"}],
              "mark": {"type": "area", "orient": "horizontal", "interpolate": "monotone", "clip": true},
              "encoding": {
                "y": {"field": "y", "type": "quantitative", "scale": {"domain": [-21.0, 21.0]}, "axis": null},
                "x": {"field": "x0", "type": "quantitative", "scale": {"domain": [-25.1, 30.2]}, "axis": null},
                "x2": {"field": "x1"},
                "color": {"field": "l", "type": "ordinal", "scale": {"domain": [1, 2, 3, 4, 5, 6, 7, 8, 9], "range": ["#0000ff", "#00b2ff", "#00ffff", "#00ffb2", "#00ff00", "#b2ff00", "#ffff00", "#ffb200", "#ff0000"]}, "legend": null}
              }
            },
            {
              "data": {"name": "xB"},
              "transform": [{"filter": "datum.l == 2"}],
              "mark": {"type": "area", "interpolate": "monotone", "clip": true},
              "encoding": {
                "x": {"field": "x", "type": "quantitative", "scale": {"domain": [-25.1, 30.2]}, "axis": null},
                "y": {"field": "t", "type": "quantitative", "scale": {"domain": [-21.0, 21.0]}, "axis": null},
                "y2": {"field": "b"},
                "detail": {"field": "z"},
                "color": {"field": "l", "type": "ordinal", "scale": {"domain": [1, 2, 3, 4, 5, 6, 7, 8, 9], "range": ["#0000ff", "#00b2ff", "#00ffff", "#00ffb2", "#00ff00", "#b2ff00", "#ffff00", "#ffb200", "#ff0000"]}, "legend": null}
              }
            },
            {
              "data": {"name": "xB"},
              "transform": [{"filter": "datum.l == 3"}],
              "mark": {"type": "area", "interpolate": "monotone", "clip": true},
              "encoding": {
                "x": {"field": "x", "type": "quantitative", "scale": {"domain": [-25.1, 30.2]}, "axis": null},
                "y": {"field": "t", "type": "quantitative", "scale": {"domain": [-21.0, 21.0]}, "axis": null},
                "y2": {"field": "b"},
                "detail": {"field": "z"},
                "color": {"field": "l", "type": "ordinal", "scale": {"domain": [1, 2, 3, 4, 5, 6, 7, 8, 9], "range": ["#0000ff", "#00b2ff", "#00ffff", "#00ffb2", "#00ff00", "#b2ff00", "#ffff00", "#ffb200", "#ff0000"]}, "legend": null}
              }
            },
            {
              "data": {"name": "xB"},
              "transform": [{"filter": "datum.l == 4"}],
              "mark": {"type": "area", "interpolate": "monotone", "clip": true},
              "encoding": {
                "x": {"field": "x", "type": "quantitative", "scale": {"domain": [-25.1, 30.2]}, "axis": null},
                "y": {"field": "t", "type": "quantitative", "scale": {"domain": [-21.0, 21.0]}, "axis": null},
                "y2": {"field": "b"},
                "detail": {"field": "z"},
                "color": {"field": "l", "type": "ordinal", "scale": {"domain": [1, 2, 3, 4, 5, 6, 7, 8, 9], "range": ["#0000ff", "#00b2ff", "#00ffff", "#00ffb2", "#00ff00", "#b2ff00", "#ffff00", "#ffb200", "#ff0000"]}, "legend": null}
              }
            },
            {
              "data": {"name": "xB"},
              "transform": [{"filter": "datum.l == 5"}],
              "mark": {"type": "area", "interpolate": "monotone", "clip": true},
              "encoding": {
                "x": {"field": "x", "type": "quantitative", "scale": {"domain": [-25.1, 30.2]}, "axis": null},
                "y": {"field": "t", "type": "quantitative", "scale": {"domain": [-21.0, 21.0]}, "axis": null},
                "y2": {"field": "b"},
                "detail": {"field": "z"},
                "color": {"field": "l", "type": "ordinal", "scale": {"domain": [1, 2, 3, 4, 5, 6, 7, 8, 9], "range": ["#0000ff", "#00b2ff", "#00ffff", "#00ffb2", "#00ff00", "#b2ff00", "#ffff00", "#ffb200", "#ff0000"]}, "legend": null}
              }
            },
            {
              "data": {"name": "xB"},
              "transform": [{"filter": "datum.l == 6"}],
              "mark": {"type": "area", "interpolate": "monotone", "clip": true},
              "encoding": {
                "x": {"field": "x", "type": "quantitative", "scale": {"domain": [-25.1, 30.2]}, "axis": null},
                "y": {"field": "t", "type": "quantitative", "scale": {"domain": [-21.0, 21.0]}, "axis": null},
                "y2": {"field": "b"},
                "detail": {"field": "z"},
                "color": {"field": "l", "type": "ordinal", "scale": {"domain": [1, 2, 3, 4, 5, 6, 7, 8, 9], "range": ["#0000ff", "#00b2ff", "#00ffff", "#00ffb2", "#00ff00", "#b2ff00", "#ffff00", "#ffb200", "#ff0000"]}, "legend": null}
              }
            },
            {
              "data": {"name": "xB"},
              "transform": [{"filter": "datum.l == 7"}],
              "mark": {"type": "area", "interpolate": "monotone", "clip": true},
              "encoding": {
                "x": {"field": "x", "type": "quantitative", "scale": {"domain": [-25.1, 30.2]}, "axis": null},
                "y": {"field": "t", "type": "quantitative", "scale": {"domain": [-21.0, 21.0]}, "axis": null},
                "y2": {"field": "b"},
                "detail": {"field": "z"},
                "color": {"field": "l", "type": "ordinal", "scale": {"domain": [1, 2, 3, 4, 5, 6, 7, 8, 9], "range": ["#0000ff", "#00b2ff", "#00ffff", "#00ffb2", "#00ff00", "#b2ff00", "#ffff00", "#ffb200", "#ff0000"]}, "legend": null}
              }
            },
            {
              "data": {"name": "xB"},
              "transform": [{"filter": "datum.l == 8"}],
              "mark": {"type": "area", "interpolate": "monotone", "clip": true},
              "encoding": {
                "x": {"field": "x", "type": "quantitative", "scale": {"domain": [-25.1, 30.2]}, "axis": null},
                "y": {"field": "t", "type": "quantitative", "scale": {"domain": [-21.0, 21.0]}, "axis": null},
                "y2": {"field": "b"},
                "detail": {"field": "z"},
                "color": {"field": "l", "type": "ordinal", "scale": {"domain": [1, 2, 3, 4, 5, 6, 7, 8, 9], "range": ["#0000ff", "#00b2ff", "#00ffff", "#00ffb2", "#00ff00", "#b2ff00", "#ffff00", "#ffb200", "#ff0000"]}, "legend": null}
              }
            },
            {
              "data": {"name": "xB"},
              "transform": [{"filter": "datum.l == 9"}],
              "mark": {"type": "area", "interpolate": "monotone", "clip": true},
              "encoding": {
                "x": {"field": "x", "type": "quantitative", "scale": {"domain": [-25.1, 30.2]}, "axis": null},
                "y": {"field": "t", "type": "quantitative", "scale": {"domain": [-21.0, 21.0]}, "axis": null},
                "y2": {"field": "b"},
                "detail": {"field": "z"},
                "color": {"field": "l", "type": "ordinal", "scale": {"domain": [1, 2, 3, 4, 5, 6, 7, 8, 9], "range": ["#0000ff", "#00b2ff", "#00ffff", "#00ffb2", "#00ff00", "#b2ff00", "#ffff00", "#ffb200", "#ff0000"]}, "legend": null}
              }
            },
            {
              "data": {"name": "geoB"},
              "transform": [{"filter": "datum.k == 'crack'"}],
              "mark": {"type": "rule", "stroke": "#9a9a9a", "strokeWidth": 3.5},
              "encoding": {
                "x": {"field": "x", "type": "quantitative", "scale": {"domain": [-25.1, 30.2]}, "axis": null},
                "x2": {"field": "x2"},
                "y": {"field": "y", "type": "quantitative", "scale": {"domain": [-21.0, 21.0]}, "axis": null},
                "y2": {"field": "y2"}
              }
            },
            {
              "data": {"name": "geoB"},
              "transform": [{"filter": "datum.k == 'crack'"}],
              "mark": {"type": "rule", "stroke": "#ffffff", "strokeWidth": 1.8},
              "encoding": {
                "x": {"field": "x", "type": "quantitative", "scale": {"domain": [-25.1, 30.2]}, "axis": null},
                "x2": {"field": "x2"},
                "y": {"field": "y", "type": "quantitative", "scale": {"domain": [-21.0, 21.0]}, "axis": null},
                "y2": {"field": "y2"}
              }
            },
            {
              "data": {"name": "geoB"},
              "transform": [{"filter": "datum.k == 'hole'"}],
              "mark": {"type": "point", "shape": "circle", "size": 11690, "filled": true, "fill": "#ffffff", "stroke": "#4a4a4a", "strokeWidth": 1, "opacity": 1},
              "encoding": {
                "x": {"field": "x", "type": "quantitative", "scale": {"domain": [-25.1, 30.2]}, "axis": null},
                "y": {"field": "y", "type": "quantitative", "scale": {"domain": [-21.0, 21.0]}, "axis": null}
              }
            },
            {
              "data": {"name": "geoB"},
              "transform": [{"filter": "datum.k == 'logo'"}],
              "mark": {"type": "rect", "fill": "#fffff8", "stroke": "#d6d6d6", "strokeWidth": 1},
              "encoding": {
                "x": {"field": "x", "type": "quantitative", "scale": {"domain": [-25.1, 30.2]}, "axis": null},
                "x2": {"field": "x2"},
                "y": {"field": "y", "type": "quantitative", "scale": {"domain": [-21.0, 21.0]}, "axis": null},
                "y2": {"field": "y2"}
              }
            },
            {
              "data": {"name": "geoB"},
              "transform": [{"filter": "datum.k == 'cap'"}],
              "mark": {"type": "point", "shape": "M-1,-0.26L0,-0.56L1,-0.26L0,0.03Z M-0.4,-0.1L-0.4,0.42Q0.15,0.62 0.7,0.42L0.7,-0.1Z", "size": 1000, "filled": true, "fill": "#111111", "strokeWidth": 0, "opacity": 1},
              "encoding": {
                "x": {"field": "x", "type": "quantitative", "scale": {"domain": [-25.1, 30.2]}, "axis": null},
                "y": {"field": "y", "type": "quantitative", "scale": {"domain": [-21.0, 21.0]}, "axis": null}
              }
            },
            {
              "data": {"name": "geoB"},
              "transform": [{"filter": "datum.k == 'cap'"}],
              "mark": {"type": "point", "shape": "M0,-0.26L-0.8,-0.12L-0.8,0.45", "size": 1000, "filled": false, "stroke": "#d8c800", "strokeWidth": 1.5, "opacity": 1},
              "encoding": {
                "x": {"field": "x", "type": "quantitative", "scale": {"domain": [-25.1, 30.2]}, "axis": null},
                "y": {"field": "y", "type": "quantitative", "scale": {"domain": [-21.0, 21.0]}, "axis": null}
              }
            },
            {
              "data": {"name": "geoB"},
              "transform": [{"filter": "datum.k == 'ay'"}],
              "mark": {"type": "rule", "stroke": "#cccc00", "strokeWidth": 2},
              "encoding": {
                "x": {"field": "x", "type": "quantitative", "scale": {"domain": [-25.1, 30.2]}, "axis": null},
                "x2": {"field": "x2"},
                "y": {"field": "y", "type": "quantitative", "scale": {"domain": [-21.0, 21.0]}, "axis": null},
                "y2": {"field": "y2"}
              }
            },
            {
              "data": {"name": "geoB"},
              "transform": [{"filter": "datum.k == 'ax'"}],
              "mark": {"type": "rule", "stroke": "#222222", "strokeWidth": 1},
              "encoding": {
                "x": {"field": "x", "type": "quantitative", "scale": {"domain": [-25.1, 30.2]}, "axis": null},
                "x2": {"field": "x2"},
                "y": {"field": "y", "type": "quantitative", "scale": {"domain": [-21.0, 21.0]}, "axis": null},
                "y2": {"field": "y2"}
              }
            },
            {
              "data": {"name": "notesB"},
              "transform": [{"filter": "datum.k == 'i'"}],
              "mark": {"type": "text", "font": "Liberation Mono", "fontSize": 10.5, "align": "left", "baseline": "middle", "fill": "#222222"},
              "encoding": {
                "x": {"field": "x", "type": "quantitative", "scale": {"domain": [-25.1, 30.2]}, "axis": null},
                "y": {"field": "y", "type": "quantitative", "scale": {"domain": [-21.0, 21.0]}, "axis": null},
                "text": {"field": "t"}
              }
            },
            {
              "data": {"name": "notesB"},
              "transform": [{"filter": "datum.k == 'm' || datum.k == 't'"}],
              "mark": {"type": "text", "font": "Liberation Mono", "fontSize": 9, "align": "center", "baseline": "middle", "fill": "#222222"},
              "encoding": {
                "x": {"field": "x", "type": "quantitative", "scale": {"domain": [-25.1, 30.2]}, "axis": null},
                "y": {"field": "y", "type": "quantitative", "scale": {"domain": [-21.0, 21.0]}, "axis": null},
                "text": {"field": "t"}
              }
            },
            {
              "data": {"name": "notesB"},
              "transform": [{"filter": "datum.k == 'c'"}],
              "mark": {"type": "text", "font": "Liberation Mono", "fontSize": 11.5, "align": "left", "baseline": "middle", "fill": "#222222"},
              "encoding": {
                "x": {"field": "x", "type": "quantitative", "scale": {"domain": [-25.1, 30.2]}, "axis": null},
                "y": {"field": "y", "type": "quantitative", "scale": {"domain": [-21.0, 21.0]}, "axis": null},
                "text": {"field": "t"}
              }
            },
            {
              "data": {"name": "notesB"},
              "transform": [{"filter": "datum.k == 'an'"}],
              "mark": {"type": "text", "font": "Liberation Sans", "fontSize": 23, "align": "left", "baseline": "alphabetic", "fill": "#ffffff", "stroke": "#9c9c9c", "strokeWidth": 0.8},
              "encoding": {
                "x": {"field": "x", "type": "quantitative", "scale": {"domain": [-25.1, 30.2]}, "axis": null},
                "y": {"field": "y", "type": "quantitative", "scale": {"domain": [-21.0, 21.0]}, "axis": null},
                "text": {"field": "t"}
              }
            },
            {
              "data": {"name": "notesB"},
              "transform": [{"filter": "datum.k == 'sys'"}],
              "mark": {"type": "text", "font": "Liberation Serif", "fontWeight": "bold", "fontSize": 23, "align": "left", "baseline": "alphabetic", "fill": "#c8bb00"},
              "encoding": {
                "x": {"field": "x", "type": "quantitative", "scale": {"domain": [-25.1, 30.2]}, "axis": null},
                "y": {"field": "y", "type": "quantitative", "scale": {"domain": [-21.0, 21.0]}, "axis": null},
                "text": {"field": "t"}
              }
            },
            {
              "data": {"name": "notesB"},
              "transform": [{"filter": "datum.k == 'nc'"}],
              "mark": {"type": "text", "font": "Liberation Sans", "fontWeight": "bold", "fontSize": 10, "align": "left", "baseline": "middle", "fill": "#c8bb00"},
              "encoding": {
                "x": {"field": "x", "type": "quantitative", "scale": {"domain": [-25.1, 30.2]}, "axis": null},
                "y": {"field": "y", "type": "quantitative", "scale": {"domain": [-21.0, 21.0]}, "axis": null},
                "text": {"field": "t"}
              }
            }
          ]
        },
        {
          "layer": [
            {
              "data": {"name": "cellsB"},
              "mark": {"type": "rect"},
              "encoding": {
                "x": {"field": "lo", "type": "quantitative", "scale": {"domain": [-80.4, 2252.18]}, "axis": null},
                "x2": {"field": "hi"},
                "y": {"datum": -15.7, "type": "quantitative", "scale": {"domain": [-21.0, 21.0]}, "axis": null},
                "y2": {"datum": -16.7},
                "color": {"field": "l", "type": "ordinal", "scale": {"domain": [1, 2, 3, 4, 5, 6, 7, 8, 9], "range": ["#0000ff", "#00b2ff", "#00ffff", "#00ffb2", "#00ff00", "#b2ff00", "#ffff00", "#ffb200", "#ff0000"]}, "legend": null}
              }
            },
            {
              "data": {"name": "cellsB"},
              "mark": {"type": "rect", "fill": null, "stroke": "#8f8f8f", "strokeWidth": 2},
              "encoding": {
                "x": {"aggregate": "min", "field": "lo", "type": "quantitative", "scale": {"domain": [-80.4, 2252.18]}, "axis": null},
                "x2": {"aggregate": "max", "field": "hi"},
                "y": {"datum": -15.7, "type": "quantitative", "scale": {"domain": [-21.0, 21.0]}, "axis": null},
                "y2": {"datum": -16.7}
              }
            },
            {
              "data": {"name": "ticksB"},
              "mark": {"type": "rule", "stroke": "#a0a0a0", "strokeWidth": 1},
              "encoding": {
                "x": {"field": "v", "type": "quantitative", "scale": {"domain": [-80.4, 2252.18]}, "axis": null},
                "y": {"datum": -16.7, "type": "quantitative", "scale": {"domain": [-21.0, 21.0]}, "axis": null},
                "y2": {"datum": -16.95}
              }
            },
            {
              "data": {"name": "ticksB"},
              "transform": [{"filter": "datum.k % 2 == 0"}],
              "mark": {"type": "text", "font": "Liberation Mono", "fontSize": 10.5, "align": "left", "baseline": "middle", "fill": "#222222"},
              "encoding": {
                "x": {"field": "v", "type": "quantitative", "scale": {"domain": [-80.4, 2252.18]}, "axis": null},
                "y": {"datum": -17.3, "type": "quantitative", "scale": {"domain": [-21.0, 21.0]}, "axis": null},
                "text": {"field": "s"}
              }
            },
            {
              "data": {"name": "ticksB"},
              "transform": [{"filter": "datum.k % 2 == 1"}],
              "mark": {"type": "text", "font": "Liberation Mono", "fontSize": 10.5, "align": "left", "baseline": "middle", "fill": "#222222"},
              "encoding": {
                "x": {"field": "v", "type": "quantitative", "scale": {"domain": [-80.4, 2252.18]}, "axis": null},
                "y": {"datum": -18.4, "type": "quantitative", "scale": {"domain": [-21.0, 21.0]}, "axis": null},
                "text": {"field": "s"}
              }
            }
          ]
        }
      ]
    }
  ]
}
